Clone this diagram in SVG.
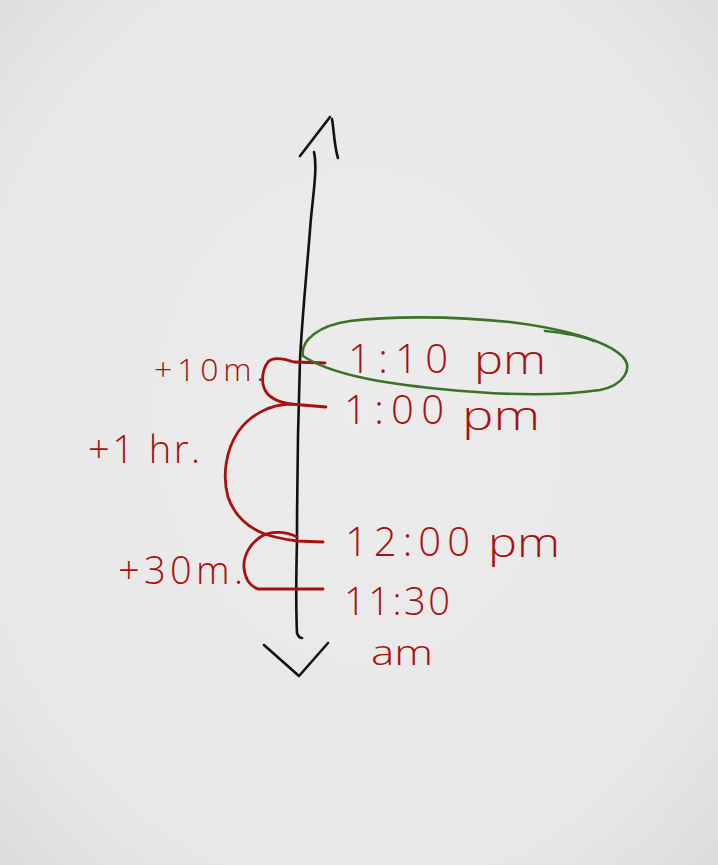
<svg xmlns="http://www.w3.org/2000/svg" width="718" height="865" viewBox="0 0 718 865">
<defs>
<radialGradient id="bg" cx="50%" cy="48%" r="75%">
<stop offset="0" stop-color="#ececec"/>
<stop offset="0.75" stop-color="#e7e7e7"/>
<stop offset="1" stop-color="#dadada"/>
</radialGradient>
<style>
.ink{fill:none;stroke:#111;stroke-width:2.6;stroke-linecap:round;stroke-linejoin:round}
.red{fill:none;stroke:#a80f0f;stroke-width:2.8;stroke-linecap:round;stroke-linejoin:round}
.grn{fill:none;stroke:#3a7326;stroke-width:2.6;stroke-linecap:round;stroke-linejoin:round}
.t{font-family:"Open Sans","DejaVu Sans",sans-serif;font-weight:300;fill:#a80f0f}
</style>
</defs>
<rect width="718" height="865" fill="url(#bg)"/>
<g id="axis">
<path class="ink" d="M314,152 C318,170 312,200 310,230 C306,280 302,320 300,360 C298,420 297,480 297,540 C296,580 296,610 297,633 C298,636 300,638 302,638"/>
<path class="ink" d="M300,156 L330,117"/>
<path class="ink" d="M332,119 C334,130 334,145 338,158"/>
<path class="ink" d="M264,645 L299,676 L328,643"/>
</g>
<g id="connectors">
<path class="red" d="M325,363 L294,362 C285,359 273,356 268,362 C262,370 261,382 265,390 C269,398 278,402 290,404 L326,407"/>
<path class="red" d="M292,404 C270,404 250,415 238,432 C226,450 222,475 228,497 C234,515 248,528 265,534 C276,538 290,540 297,541 L323,542"/>
<path class="red" d="M297,537 C288,532 272,530 262,536 C250,543 243,556 244,568 C245,578 250,586 258,589 L323,589"/>
</g>
<g id="highlight">
<path class="grn" d="M303,356 C300,340 320,325 350,321 C390,316 450,316 510,322 C560,328 605,340 622,356 C634,368 624,385 600,390 C560,396 500,395 440,389 C380,383 330,374 303,356"/>
<path class="grn" d="M545,331 C565,333 582,336 594,341"/>
</g>
<g id="label-110">
<text class="t" font-size="40"><tspan x="348" y="373" textLength="100" lengthAdjust="spacing">1:10</tspan><tspan x="474" y="374" textLength="72" lengthAdjust="spacingAndGlyphs">pm</tspan></text>
</g>
<g id="label-100">
<text class="t" font-size="40"><tspan x="344" y="424" textLength="100" lengthAdjust="spacing">1:00</tspan><tspan x="462" y="430" textLength="78" lengthAdjust="spacingAndGlyphs">pm</tspan></text>
</g>
<g id="label-1200">
<text class="t" font-size="40"><tspan x="345" y="556" textLength="125" lengthAdjust="spacing">12:00</tspan><tspan x="488" y="557" textLength="72" lengthAdjust="spacingAndGlyphs">pm</tspan></text>
</g>
<g id="label-1130">
<text class="t" x="344" y="615" font-size="38" textLength="106" lengthAdjust="spacing">11:30</text>
<text class="t" x="371" y="665" font-size="34" textLength="62" lengthAdjust="spacingAndGlyphs">am</text>
</g>
<g id="label-10m">
<text class="t" x="154" y="381" font-size="32" textLength="110" lengthAdjust="spacing">+10m.</text>
</g>
<g id="label-1hr">
<text class="t" x="88" y="463" font-size="38" textLength="112" lengthAdjust="spacing">+1 hr.</text>
</g>
<g id="label-30m">
<text class="t" x="118" y="584" font-size="38" textLength="125" lengthAdjust="spacing">+30m.</text>
</g>
</svg>
